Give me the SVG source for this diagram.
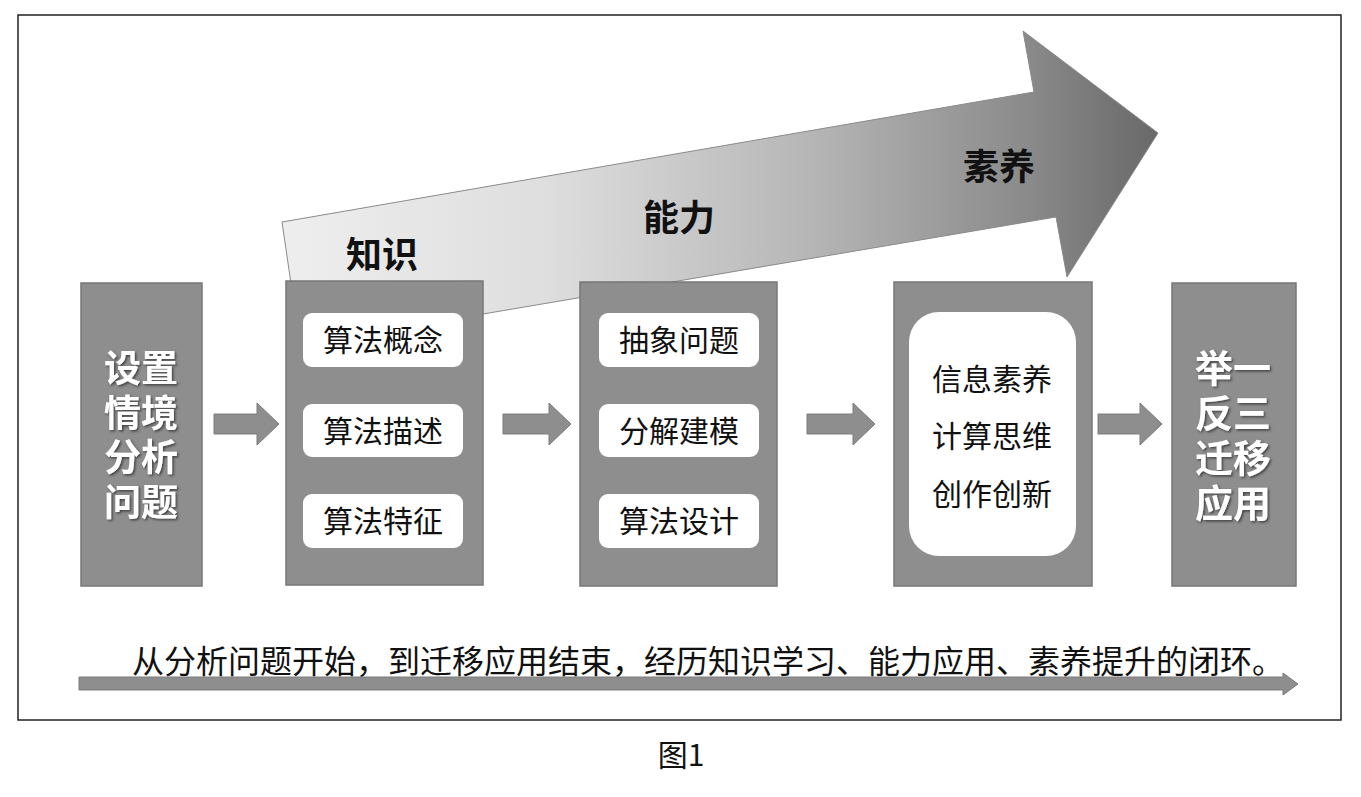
<svg xmlns="http://www.w3.org/2000/svg" width="1361" height="797" viewBox="0 0 1361 797">
<defs>
<linearGradient id="bigGrad" gradientUnits="userSpaceOnUse" x1="283" y1="0" x2="1160" y2="0">
<stop offset="0" stop-color="#eeeeee"/>
<stop offset="0.3" stop-color="#dedede"/>
<stop offset="0.6" stop-color="#b6b6b6"/>
<stop offset="0.85" stop-color="#8a8a8a"/>
<stop offset="1" stop-color="#686868"/>
</linearGradient>
<filter id="shadow" x="-20%" y="-20%" width="140%" height="140%">
<feDropShadow dx="1.5" dy="1.5" stdDeviation="0.8" flood-color="#333333" flood-opacity="0.8"/>
</filter>
<style>
.box{fill:#8e8e8e;stroke:#777777;stroke-width:1.5}
.inner{fill:#ffffff}
.arr{fill:#8e8e8e;stroke:#7c7c7c;stroke-width:1}
.wt{font-family:"Noto Sans CJK SC","Noto Sans",sans-serif;fill:#ffffff;font-weight:bold;text-anchor:middle}
.bt{font-family:"Noto Sans CJK SC","Noto Sans",sans-serif;fill:#111111;text-anchor:middle}
.lbl{font-family:"Noto Sans CJK SC","Noto Sans",sans-serif;fill:#111111;font-weight:bold;font-size:36px;text-anchor:middle}
</style>
</defs>
<rect x="0" y="0" width="1361" height="797" fill="#ffffff"/>
<rect x="18" y="15" width="1323" height="705" fill="#ffffff" stroke="#222222" stroke-width="1.5"/>

<g id="big-arrow">
<polygon points="282,222 1034,92 1023,31 1158,133 1067,277 1056,217 300,345" fill="url(#bigGrad)" stroke="#8a8a8a" stroke-width="1"/>
<text class="lbl" x="382" y="268">知识</text>
<text class="lbl" x="679" y="231">能力</text>
<text class="lbl" x="999" y="180">素养</text>
</g>

<g id="connectors">
<polygon class="arr" points="214,414 257,414 257,403 279,424 257,445 257,434 214,434"/>
<polygon class="arr" points="503,414 549,414 549,403 571,424 549,445 549,434 503,434"/>
<polygon class="arr" points="807,414 853,414 853,403 875,424 853,445 853,434 807,434"/>
<polygon class="arr" points="1098,414 1140,414 1140,403 1162,424 1140,445 1140,434 1098,434"/>
<polygon class="arr" points="79,677 1283,677 1283,673 1298,684 1283,695 1283,690 79,690"/>
</g>

<g id="node-start">
<rect class="box" x="81" y="283" width="121" height="303"/>
<text class="wt" font-size="37" filter="url(#shadow)"><tspan x="141" y="382">设置</tspan><tspan x="141" y="427">情境</tspan><tspan x="141" y="471">分析</tspan><tspan x="141" y="516">问题</tspan></text>
</g>

<g id="node-knowledge">
<rect class="box" x="286" y="281" width="197" height="304"/>
<rect class="inner" x="303" y="313" width="160" height="54" rx="9"/>
<rect class="inner" x="303" y="404" width="160" height="53" rx="9"/>
<rect class="inner" x="303" y="494" width="160" height="54" rx="9"/>
<text class="bt" x="383" y="351" font-size="30">算法概念</text>
<text class="bt" x="383" y="442" font-size="30">算法描述</text>
<text class="bt" x="383" y="532" font-size="30">算法特征</text>
</g>

<g id="node-ability">
<rect class="box" x="580" y="282" width="197" height="304"/>
<rect class="inner" x="599" y="313" width="160" height="54" rx="9"/>
<rect class="inner" x="599" y="404" width="160" height="53" rx="9"/>
<rect class="inner" x="599" y="494" width="160" height="54" rx="9"/>
<text class="bt" x="679" y="351" font-size="30">抽象问题</text>
<text class="bt" x="679" y="442" font-size="30">分解建模</text>
<text class="bt" x="679" y="532" font-size="30">算法设计</text>
</g>

<g id="node-literacy">
<rect class="box" x="894" y="282" width="198" height="304"/>
<rect class="inner" x="909" y="312" width="167" height="244" rx="30"/>
<text class="bt" x="992" y="390" font-size="30">信息素养</text>
<text class="bt" x="992" y="447" font-size="30">计算思维</text>
<text class="bt" x="992" y="505" font-size="30">创作创新</text>
</g>

<g id="node-transfer">
<rect class="box" x="1172" y="283" width="124" height="303"/>
<text class="wt" font-size="38" filter="url(#shadow)"><tspan x="1233" y="382">举一</tspan><tspan x="1233" y="427">反三</tspan><tspan x="1233" y="472">迁移</tspan><tspan x="1233" y="517">应用</tspan></text>
</g>

<text class="bt" x="708" y="673" font-size="32">从分析问题开始，到迁移应用结束，经历知识学习、能力应用、素养提升的闭环。</text>
<text class="bt" x="681" y="766" font-size="30">图1</text>
</svg>
